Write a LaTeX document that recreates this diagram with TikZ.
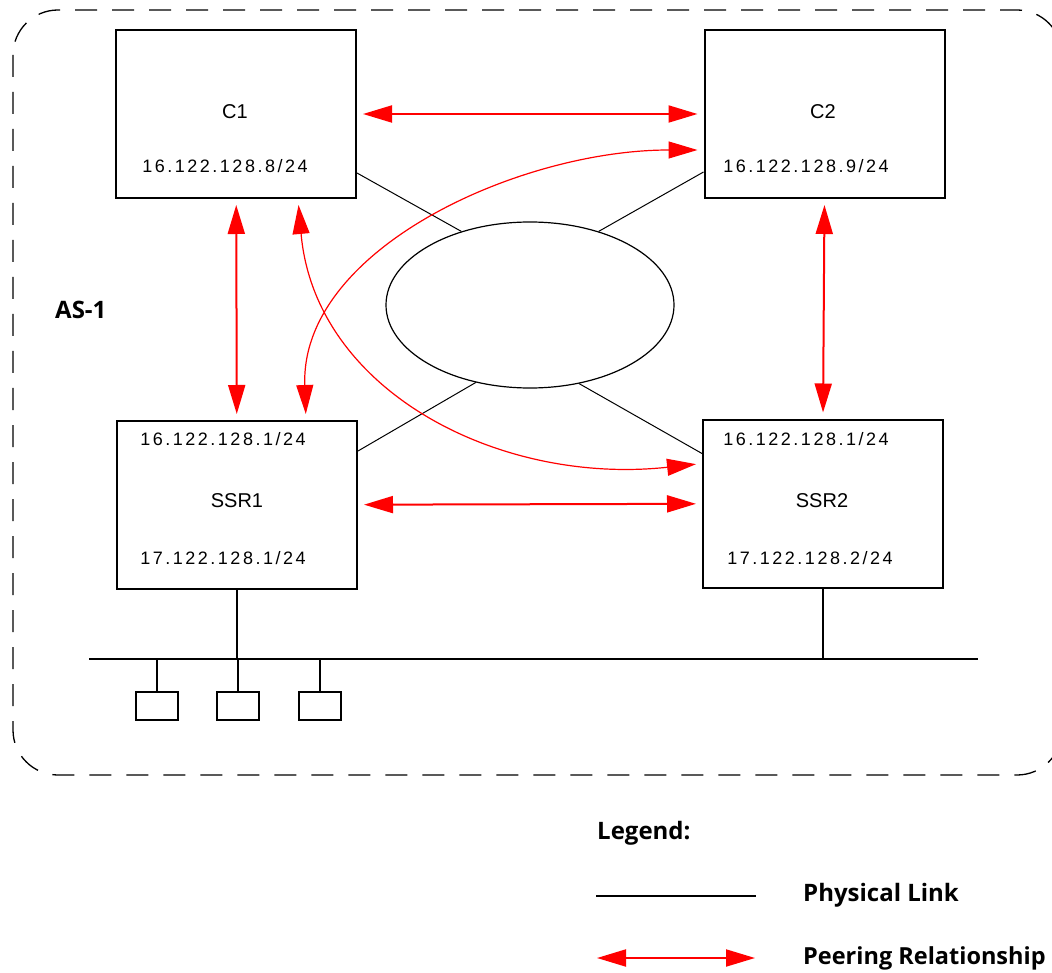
\documentclass[tikz,border=0pt]{standalone}
\usepackage{fontspec}
\setmainfont{Liberation Sans}
\newfontfamily\addrfont{Liberation Sans}[LetterSpace=14]
\newfontfamily\legendfont{Open Sans}
\usetikzlibrary{arrows.meta,shapes.geometric}
\begin{document}
\begin{tikzpicture}[x=1pt,y=-1pt,
  router/.style={draw,line width=2pt,minimum width=240pt,minimum height=168pt,inner sep=0pt},
  host/.style={draw,line width=1.6pt,minimum width=42pt,minimum height=28pt,inner sep=0pt},
  devname/.style={font=\fontsize{20}{24}\selectfont},
  addr/.style={font=\addrfont\fontsize{18}{22}\selectfont},
  boldtext/.style={font=\legendfont\bfseries\fontsize{24}{28}\selectfont,anchor=west,inner sep=0pt},
  phys/.style={line width=1pt},
  bus/.style={line width=2pt},
  peer/.style={red,line width=2pt,{Triangle[length=29pt,width=17pt]}-{Triangle[length=29pt,width=17pt]}},
  gap/.style={shorten <=6pt,shorten >=6pt}]
  \useasboundingbox (0,0) rectangle (1052,973);
  \draw[line width=1.3pt,dash pattern=on 22pt off 15pt,rounded corners=45pt] (13,10) rectangle (1062,775);
  % routers
  \node[router] (C1) at (236,114) {};
  \node[router] (C2) at (824.5,114) {};
  \node[router] (SSR1) at (237,505) {};
  \node[router] (SSR2) at (823,503.5) {};
  \node[draw,ellipse,line width=1.2pt,minimum width=288pt,minimum height=166pt,inner sep=0pt] (cloud) at (530,305) {};
  \node[devname] at (235,112) {C1};
  \node[addr] at (225,166) {16.122.128.8/24};
  \node[devname] at (823,112) {C2};
  \node[addr] at (806,166) {16.122.128.9/24};
  \node[addr] at (223,439) {16.122.128.1/24};
  \node[devname] at (237,501) {SSR1};
  \node[addr] at (223,558) {17.122.128.1/24};
  \node[addr] at (806,439) {16.122.128.1/24};
  \node[devname] at (822,501) {SSR2};
  \node[addr] at (810,558) {17.122.128.2/24};
  \node[boldtext] at (55,310) {AS-1};
  % physical links
  \draw[phys] ([yshift=-59pt]C1.east) -- (cloud.133);
  \draw[phys] ([yshift=-58pt]C2.west) -- (cloud.47);
  \draw[phys] ([yshift=54pt]SSR1.east) -- (cloud.235);
  \draw[phys] ([yshift=50pt]SSR2.west) -- (cloud.302);
  % lan
  \coordinate (lan w) at (89,659);
  \coordinate (lan e) at (978,659);
  \draw[bus] (lan w) -- (lan e);
  \draw[bus] (SSR1.south) -- (SSR1.south |- lan w);
  \draw[bus] (SSR2.south) -- (SSR2.south |- lan w);
  \foreach \x/\n in {157/h1,238/h2,320/h3}{
    \node[host] (\n) at (\x,706) {};
    \draw[bus] (\n.north) -- (\n.north |- lan w);
  }
  % peering
  \draw[peer,gap] (C1) -- (C2);
  \draw[peer,gap] (SSR1) -- (SSR2);
  \draw[peer,gap] (C1) -- (SSR1);
  \draw[peer,gap] (C2.south) -- (SSR2.north);
  \draw[peer,line width=1.2pt,gap] ([xshift=69pt]SSR1.north) .. controls +(-6,-171) and +(-184,0) .. ([yshift=-36pt]C2.west);
  \draw[peer,line width=1.2pt,gap] ([xshift=62pt]C1.south) .. controls +(17,192) and +(-203,22) .. ([yshift=40pt]SSR2.west);
  % legend
  \node[boldtext] at (597,833) {Legend:};
  \coordinate (phys a) at (596,896);
  \coordinate (phys b) at (756,896);
  \draw[phys,line width=1.6pt] (phys a) -- (phys b);
  \node[boldtext] (phys txt) at (803,895) {Physical Link};
  \coordinate (peer a) at (597,958);
  \coordinate (peer b) at (755,958);
  \draw[peer] (peer a) -- (peer b);
  \node[boldtext,font=\legendfont\bfseries\fontsize{23.5}{28}\selectfont] (peer txt) at (803,958) {Peering Relationship};
\end{tikzpicture}
\end{document}
